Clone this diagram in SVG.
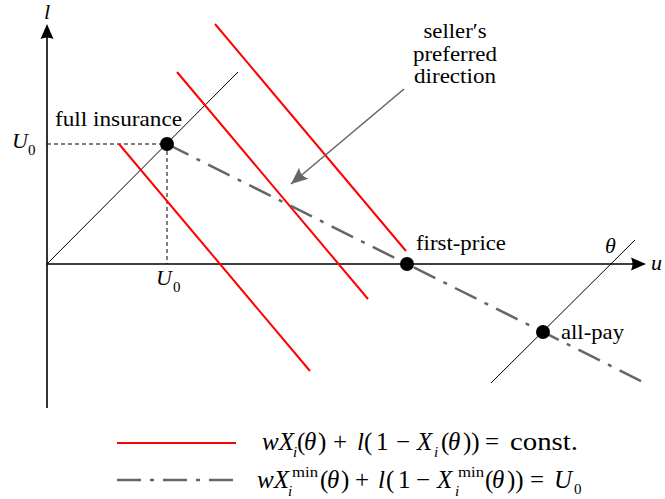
<svg xmlns="http://www.w3.org/2000/svg" width="665" height="499" viewBox="0 0 665 499">
<style>
text{font-family:"Liberation Serif","DejaVu Serif",serif;fill:#000}
.t{font-size:21px}
.n{font-size:20px}
.m{font-size:22px}
.L{font-size:25px}
.it{font-style:italic}
.s{font-size:15px}
.red{stroke:#ff0000;stroke-width:2;fill:none}
.dd{stroke:#666;stroke-width:2.5;fill:none;stroke-dasharray:24 9 4 9}
.thin{stroke:#000;stroke-width:1;fill:none}
.dash{stroke:#000;stroke-width:1;fill:none;stroke-dasharray:4 3}
.axis{stroke:#000;stroke-width:1.6;fill:none}
</style>
<defs>
<marker id="ga" markerUnits="userSpaceOnUse" markerWidth="20" markerHeight="20" refX="0" refY="0" viewBox="-16 -8 18 16" orient="auto">
<path d="M0,0 L-15,-6.5 Q-11,0 -15,6.5 Z" fill="#666"/>
</marker>
</defs>
<g id="axes">
<line class="axis" x1="47" y1="408" x2="47" y2="34"/>
<path d="M47,24 L53.5,39 Q47,36 40.5,39 Z" fill="#000"/>
<line class="axis" x1="47" y1="264" x2="638" y2="264"/>
<path d="M646,264 L631,270.5 Q634,264 631,257.5 Z" fill="#000"/>
<text class="m it" x="47" y="19" text-anchor="middle" font-size="20">l</text>
<text class="m it" x="651" y="270">u</text>
</g>
<g id="connectors">
<line class="thin" x1="47" y1="264" x2="238" y2="72"/>
<line class="thin" x1="491" y1="383" x2="635" y2="240"/>
<line class="dash" x1="47" y1="144" x2="167" y2="144"/>
<line class="dash" x1="167" y1="144" x2="167" y2="264"/>
<line class="red" x1="119" y1="144" x2="310" y2="371"/>
<line class="red" x1="177" y1="72" x2="368" y2="299"/>
<line class="red" x1="215" y1="24" x2="406" y2="251"/>
<line class="dd" x1="167" y1="144" x2="647" y2="384"/>
<line stroke="#666" stroke-width="1.6" x1="404" y1="89" x2="291" y2="184" marker-end="url(#ga)"/>
</g>
<g id="full-insurance">
<circle cx="167" cy="144" r="7" fill="#000"/>
<text class="t" x="55" y="126" textLength="127" lengthAdjust="spacingAndGlyphs">full insurance</text>
</g>
<g id="first-price">
<circle cx="407" cy="264" r="7" fill="#000"/>
<text class="t" x="416" y="250" textLength="90" lengthAdjust="spacingAndGlyphs">first-price</text>
</g>
<g id="all-pay">
<circle cx="543" cy="332" r="7" fill="#000"/>
<text class="t" x="561" y="339" textLength="63" lengthAdjust="spacingAndGlyphs">all-pay</text>
</g>
<g id="theta-label">
<text class="m it" x="605" y="253">θ</text>
</g>
<g id="U0-labels">
<text class="m it" x="12" y="148">U</text><text class="s" x="28" y="155">0</text>
<text class="m it" x="156" y="285">U</text><text class="s" x="173" y="292">0</text>
</g>
<g id="seller-note">
<text class="n" x="455" y="38" text-anchor="middle" textLength="63" lengthAdjust="spacingAndGlyphs">seller′s</text>
<text class="n" x="455" y="61" text-anchor="middle" textLength="84" lengthAdjust="spacingAndGlyphs">preferred</text>
<text class="n" x="455" y="83" text-anchor="middle" textLength="82" lengthAdjust="spacingAndGlyphs">direction</text>
</g>
<g id="legend">
<line class="red" x1="117" y1="443" x2="236" y2="443"/>
<g class="L">
<text class="it" x="262" y="450">wX</text>
<text class="s it" x="293" y="457">i</text>
<text x="297" y="450">(</text>
<text class="it" x="304" y="450">θ</text>
<text x="318" y="450">)</text>
<text x="333" y="450">+</text>
<text class="it" x="357" y="450">l</text>
<text x="364" y="450">(</text>
<text x="376" y="450">1</text>
<text x="396" y="450">−</text>
<text class="it" x="417" y="450">X</text>
<text class="s it" x="434" y="457">i</text>
<text x="441" y="450">(</text>
<text class="it" x="448" y="450">θ</text>
<text x="463" y="450">))</text>
<text x="485" y="450">=</text>
<text x="510" y="450" textLength="68" lengthAdjust="spacingAndGlyphs">const.</text>
</g>
<line class="dd" x1="117" y1="480" x2="236" y2="480"/>
<g class="L">
<text class="it" x="257" y="488">wX</text>
<text class="s" x="292" y="477" textLength="26" lengthAdjust="spacingAndGlyphs">min</text>
<text class="s it" x="288" y="496">i</text>
<text x="320" y="488">(</text>
<text class="it" x="327" y="488">θ</text>
<text x="341" y="488">)</text>
<text x="355" y="488">+</text>
<text class="it" x="378" y="488">l</text>
<text x="386" y="488">(</text>
<text x="398" y="488">1</text>
<text x="416" y="488">−</text>
<text class="it" x="437" y="488">X</text>
<text class="s" x="458" y="477" textLength="26" lengthAdjust="spacingAndGlyphs">min</text>
<text class="s it" x="455" y="496">i</text>
<text x="485" y="488">(</text>
<text class="it" x="492" y="488">θ</text>
<text x="507" y="488">))</text>
<text x="530" y="488">=</text>
<text class="it" x="554" y="488">U</text>
<text class="s" x="574" y="494">0</text>
</g>
</g>
</svg>
